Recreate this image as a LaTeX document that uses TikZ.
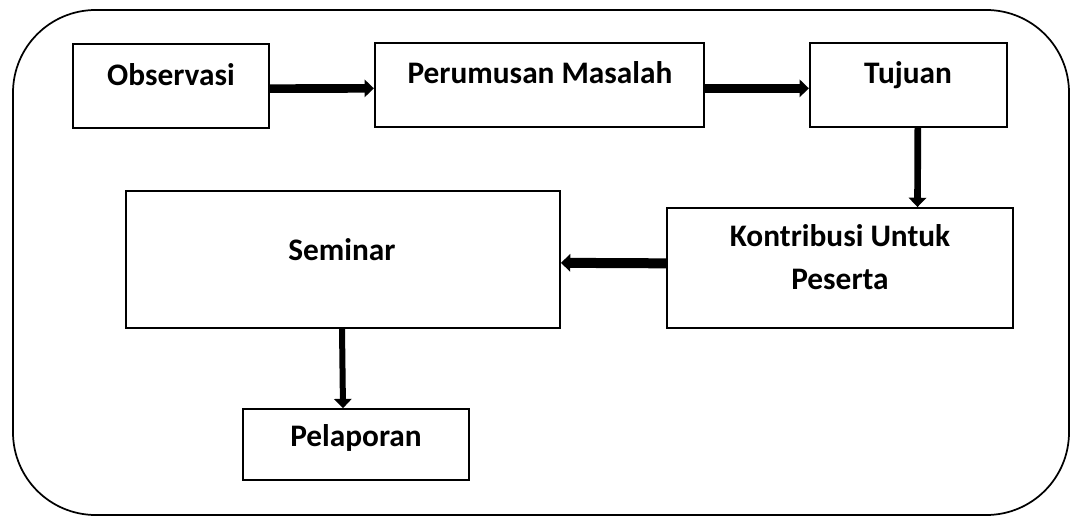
\documentclass[tikz,border=0pt]{standalone}
\usepackage{fontspec}
\setmainfont{Carlito}
\usetikzlibrary{arrows.meta,positioning}

\begin{document}
\begin{tikzpicture}[x=0.75pt, y=-0.75pt,
    box/.style={draw, line width=1.4pt, rectangle, inner sep=0pt},
    txt/.style={font=\fontsize{23.5}{32.5}\selectfont\bfseries, align=center},
    flow/.style={line width=#1, -{Triangle[length=7pt, width=13pt]}},
    flow/.default=6.5pt]
    \useasboundingbox (0,0) rectangle (1072,517);

    % Frame
    \draw[line width=1.3pt, rounded corners=62pt] (13,10) rectangle (1069,515);

    % Boxes
    \node[box, minimum width=147pt, minimum height=63pt] (obs) at (171,86) {};
    \node[box, minimum width=247pt, minimum height=63pt] (per) at (539.5,85) {};
    \node[box, minimum width=148pt, minimum height=63pt] (tuj) at (908.5,85) {};
    \node[box, minimum width=259.5pt, minimum height=90pt] (kon) at (840,268) {};
    \node[box, minimum width=325.5pt, minimum height=103pt] (sem) at (343,259.5) {};
    \node[box, minimum width=169.5pt, minimum height=53pt] (pel) at (356,444.5) {};

    % Labels
    \node[txt] (obsLabel) at (171,75) {Observasi};
    \node[txt] (perLabel) at (540,73) {Perumusan Masalah};
    \node[txt] (tujLabel) at (908,75) {Tujuan};
    \node[txt] (konLabel) at (840,257) {Kontribusi Untuk\\Peserta};
    \node[txt] (semLabel) at (342,250) {Seminar};
    \node[txt] (pelLabel) at (356,438) {Pelaporan};

    % Arrows
    \draw[flow] ([yshift=-2pt]obs.east) -- ([yshift=-2.5pt]per.west);
    \draw[flow] ([yshift=-2.5pt]per.east) -- ([yshift=-2.5pt]tuj.west);
    \draw[flow=5pt] ([xshift=7pt]tuj.south) -- ([xshift=6.75pt]kon.north -| tuj.south);
    \draw[flow=7.5pt] ([yshift=3.5pt]kon.west) -- ([yshift=-2.5pt]sem.east);
    \draw[flow=4.5pt] ([xshift=-0.75pt]sem.south) -- (sem.south |- pel.north);
\end{tikzpicture}
\end{document}
